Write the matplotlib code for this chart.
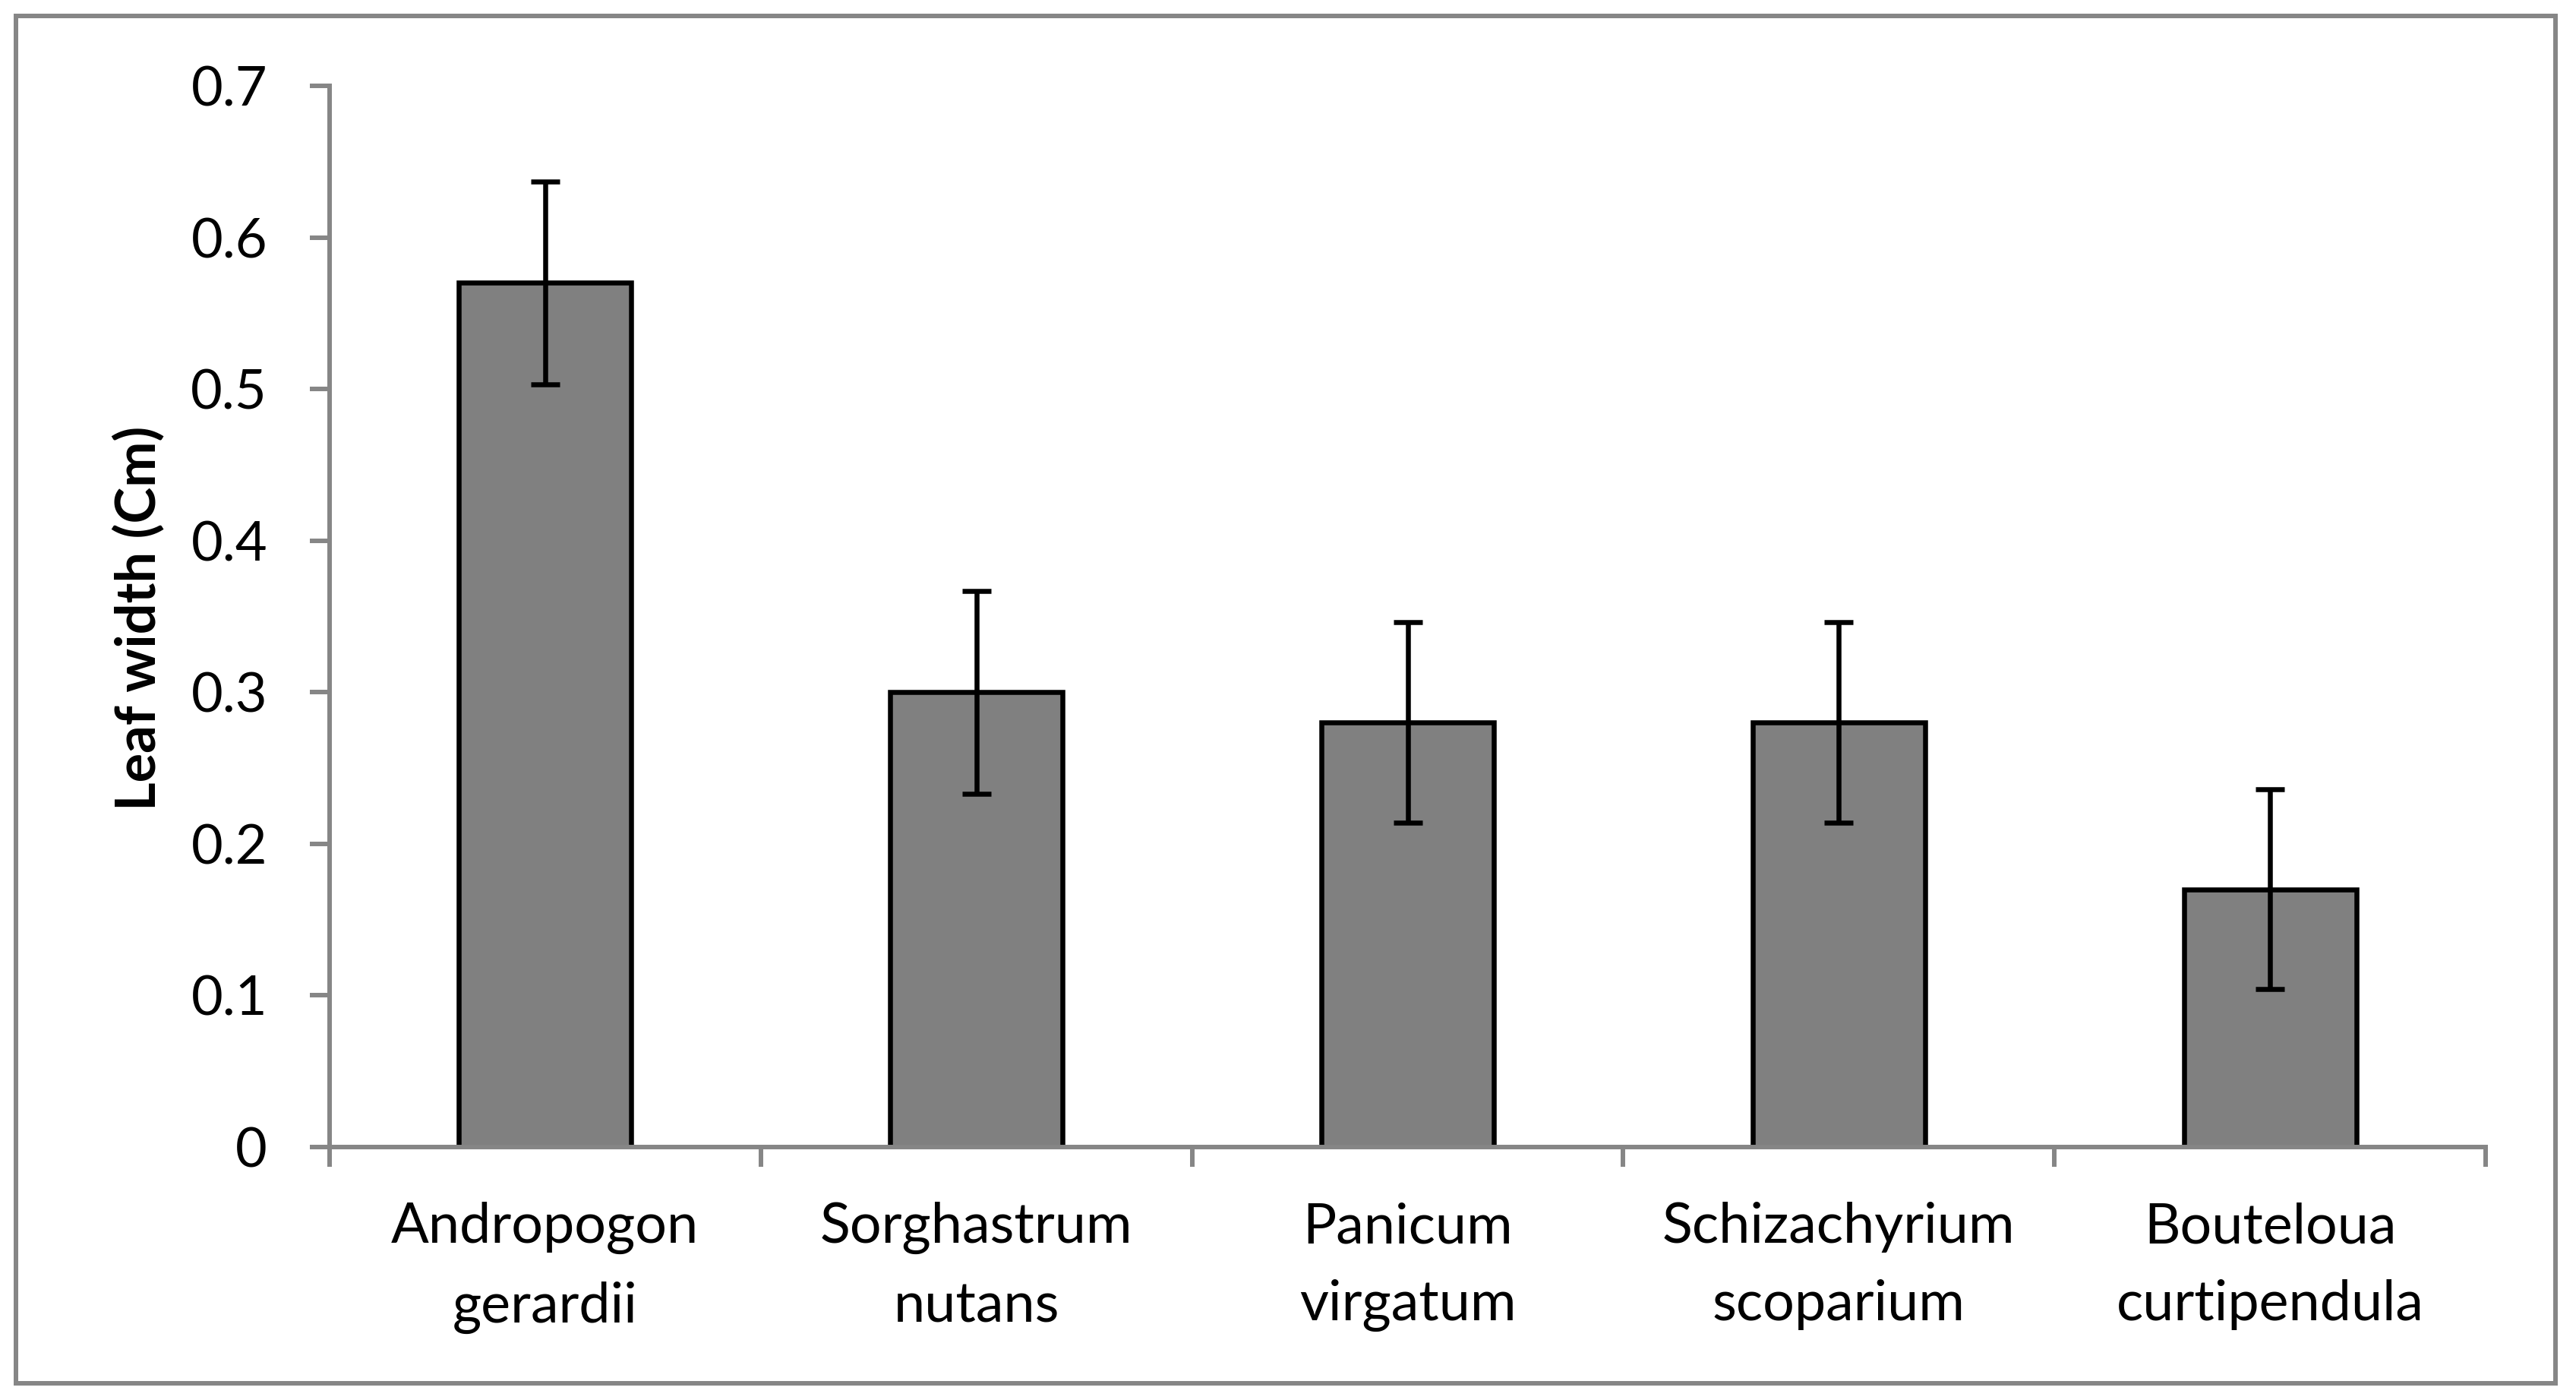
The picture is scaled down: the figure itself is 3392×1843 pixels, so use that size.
import matplotlib
matplotlib.use("Agg")
import matplotlib.pyplot as plt
from matplotlib.patches import Rectangle

categories = ["Andropogon\ngerardii", "Sorghastrum\nnutans", "Panicum\nvirgatum",
              "Schizachyrium\nscoparium", "Bouteloua\ncurtipendula"]
values = [0.57, 0.30, 0.28, 0.28, 0.17]
errors = [0.067, 0.067, 0.066, 0.066, 0.066]
yticks = [0, 0.1, 0.2, 0.3, 0.4, 0.5, 0.6, 0.7]
ytick_labels = ["0", "0.1", "0.2", "0.3", "0.4", "0.5", "0.6", "0.7"]
ylabel = "Leaf width (Cm)"

plt.rcParams['font.family'] = ['Lato', 'DejaVu Sans']

W, H = 3392, 1843
fig = plt.figure(figsize=(W / 100, H / 100), dpi=100)
fig.patch.set_facecolor('white')

ax_left, ax_right, ax_bottom_px, ax_top_px = 434, 3273, 1510, 113
ax = fig.add_axes([ax_left / W, (H - ax_bottom_px) / H,
                   (ax_right - ax_left) / W, (ax_bottom_px - ax_top_px) / H])

gray = '#868686'
x = list(range(len(categories)))
ax.bar(x, values, width=0.4, color='#808080', edgecolor='black', linewidth=4.7, zorder=2)
ax.errorbar(x, values, yerr=errors, fmt='none', ecolor='black', elinewidth=4.7,
            capsize=14, capthick=4.7, zorder=3)

ax.set_xlim(-0.5, len(categories) - 0.5)
ax.set_ylim(0, 0.7)
ax.set_yticks(yticks)
ax.set_yticklabels(ytick_labels)

ax.set_xticks([i - 0.5 for i in range(len(categories) + 1)])
ax.set_xticklabels([])
ax.set_xticks(x, minor=True)
ax.set_xticklabels(categories, minor=True, fontsize=53, linespacing=1.65)
ax.tick_params(axis='x', which='minor', length=0, pad=52)
ax.tick_params(axis='x', which='major', length=19, width=4.3, color=gray, direction='out')
ax.tick_params(axis='y', which='major', length=19, width=4.3, color=gray, direction='out',
               labelsize=52, pad=40)

for s in ['top', 'right']:
    ax.spines[s].set_visible(False)
for s in ['left', 'bottom']:
    ax.spines[s].set_color(gray)
    ax.spines[s].set_linewidth(4.3)

ax.set_ylabel(ylabel, fontsize=52, fontweight='bold')
ax.yaxis.label.set_va('center')
ax.yaxis.set_label_coords((183 - ax_left) / (ax_right - ax_left),
                          (ax_bottom_px - 814) / (ax_bottom_px - ax_top_px))

border = Rectangle((21 / W, (H - 1821) / H), (3365 - 21) / W, (1821 - 21) / H,
                   transform=fig.transFigure, fill=False, edgecolor=gray, linewidth=4.3)
fig.patches.append(border)

fig.savefig('out.png', dpi=100, facecolor='white')
